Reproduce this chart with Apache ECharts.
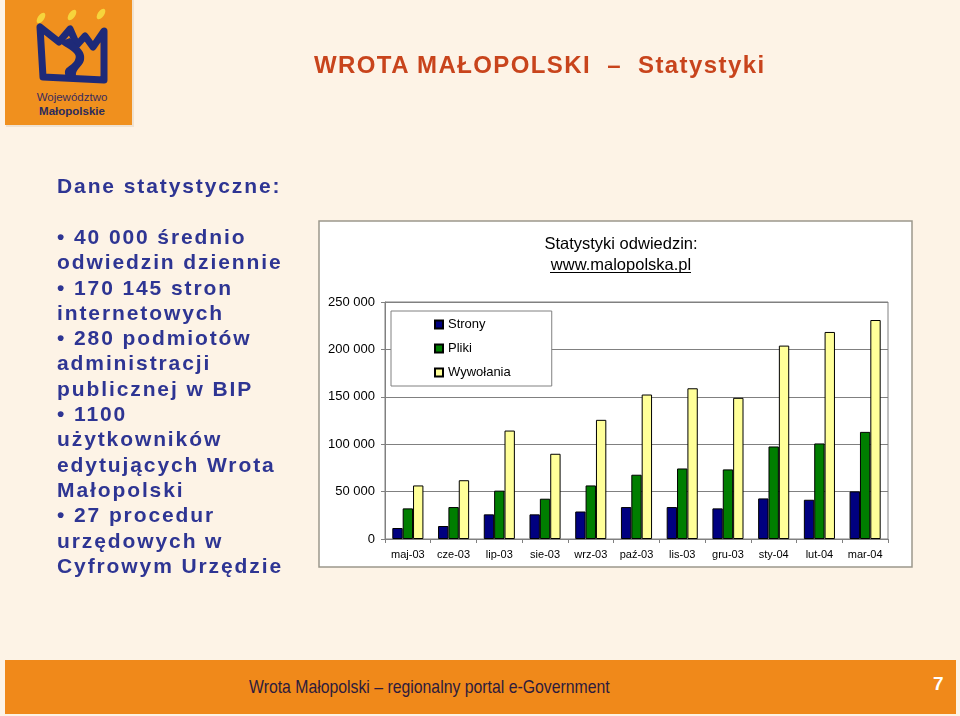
<!DOCTYPE html>
<html>
<head>
<meta charset="utf-8">
<script src="https://cdn.jsdelivr.net/npm/echarts@6/dist/echarts.min.js"></script>
<style>
  html, body { margin:0; padding:0; background:#FDF3E6; }
  #page { position:relative; width:960px; height:716px; overflow:hidden; background:#FDF3E6; }
  #chart { position:absolute; left:0; top:0; width:960px; height:716px; }
  .txt { position:absolute; white-space:pre; font-family:"Liberation Sans", Arial, sans-serif; pointer-events:none; }
  #title { left:314px; top:50px; font-size:24px; line-height:30px; font-weight:bold; color:#C8441C; letter-spacing:1.4px; }
  #left { left:57px; top:224px; font-size:21px; line-height:25.3px; font-weight:bold; color:#2E3593; letter-spacing:1.9px; }
  #head { left:57px; top:173px; font-size:21px; line-height:25.3px; font-weight:bold; color:#2E3593; letter-spacing:1.9px; }
  #footer { position:absolute; left:5px; top:660px; width:951px; height:54px; background:#F0891A; }
  #ftxt { left:249px; top:675px; font-size:18.5px; line-height:24px; color:#2D1B3D; transform:scaleX(0.854); transform-origin:left center; }
  #fnum { left:933px; top:672px; font-size:19px; line-height:24px; color:#fff; font-weight:bold; }
  #logo { position:absolute; left:4px; top:0px; }
</style>
</head>
<body>
<div id="page">
  <svg id="logo" width="132" height="130" viewBox="0 0 132 130">
    <rect x="2" y="0" width="128" height="127" fill="#EFE2D2"/>
    <rect x="1" y="0" width="127" height="125" fill="#F0901E"/>
    <g fill="#F6D43C">
      <ellipse cx="37" cy="18" rx="3.2" ry="6" transform="rotate(35 37 18)"/>
      <ellipse cx="68" cy="15" rx="3.2" ry="6" transform="rotate(35 68 15)"/>
      <ellipse cx="97" cy="14" rx="3.2" ry="6" transform="rotate(35 97 14)"/>
    </g>
    <path d="M36,27 L39,77 L100,80 L100,31 L89,47 L81,36 L73,45 L66,29 L55,42 Z" fill="none" stroke="#1E2A78" stroke-width="7" stroke-linejoin="round"/>
    <path d="M55,42 C64,50 75,52 71,60 C67,68 58,66 62,77 L73,78 C69,70 78,68 80,60 C82,50 72,46 66,38 Z" fill="#1E2A78"/>
    <text x="68" y="101" text-anchor="middle" font-family="Liberation Sans, Arial" font-size="11.5" fill="#3B2C5C">Województwo</text>
    <text x="68" y="115" text-anchor="middle" font-family="Liberation Sans, Arial" font-size="11.5" font-weight="bold" fill="#2B2A5C">Małopolskie</text>
  </svg>
  <div id="chart"></div>
  <div id="title" class="txt">WROTA MAŁOPOLSKI  –  Statystyki</div>
  <div id="head" class="txt">Dane statystyczne:</div>
  <div id="left" class="txt">• 40 000 średnio
odwiedzin dziennie
• 170 145 stron
internetowych
• 280 podmiotów
administracji
publicznej w BIP
• 1100
użytkowników
edytujących Wrota
Małopolski
• 27 procedur
urzędowych w
Cyfrowym Urzędzie</div>
  <div id="footer"></div>
  <div id="ftxt" class="txt">Wrota Małopolski – regionalny portal e-Government</div>
  <div id="fnum" class="txt">7</div>
</div>
<script>
const categories = ['maj-03','cze-03','lip-03','sie-03','wrz-03','paź-03','lis-03','gru-03','sty-04','lut-04','mar-04'];
const strony = [11600, 13700, 26000, 26000, 29000, 33700, 33700, 32300, 42800, 41400, 50200];
const pliki  = [32300, 33700, 51000, 42500, 56500, 67800, 74400, 73400, 97600, 100800, 113000];
const wywolania = [56500, 62000, 114400, 89900, 125700, 152400, 159000, 148900, 204000, 218400, 231000];
const seriesNames = ['Strony', 'Pliki', 'Wywołania'];
const yMin = 0, yMax = 250000, yInterval = 50000;
const chartTitle = 'Statystyki odwiedzin:';
const chartSubtitle = 'www.malopolska.pl';

const chart = echarts.init(document.getElementById('chart'), null, { renderer: 'canvas' });
const font = '"Liberation Sans", Arial, sans-serif';
const fmt = v => String(v).replace(/\B(?=(\d{3})+(?!\d))/g, ' ');
const barStyle = c => ({ color: c, borderColor: '#000', borderWidth: 1 });

chart.setOption({
  backgroundColor: 'transparent',
  animation: false,
  textStyle: { fontFamily: font },
  graphic: [
    { type: 'rect', z: -10, shape: { x: 319, y: 221, width: 593, height: 346 },
      style: { fill: '#fff', stroke: '#9C988C', lineWidth: 1.5 } },
    { type: 'line', z: 10, shape: { x1: 550, y1: 272.5, x2: 691, y2: 272.5 },
      style: { stroke: '#000', lineWidth: 1 } }
  ],
  title: {
    text: chartTitle + '\n' + chartSubtitle,
    left: 616, top: 229, textAlign: 'center',
    textStyle: { fontSize: 16.5, fontWeight: 'normal', color: '#000', lineHeight: 21, fontFamily: font }
  },
  legend: {
    data: seriesNames,
    orient: 'vertical',
    left: 391, top: 311,
    padding: [7, 41, 7, 43],
    itemWidth: 8, itemHeight: 8, itemGap: 11,
    icon: 'rect',
    backgroundColor: '#fff',
    borderColor: '#808080', borderWidth: 1,
    textStyle: { fontSize: 13, color: '#000', fontFamily: font }
  },
  grid: {
    left: 385, right: 72, top: 302, bottom: 177,
    show: true, borderColor: '#808080', borderWidth: 1, backgroundColor: '#fff'
  },
  xAxis: {
    type: 'category',
    data: categories,
    axisLine: { lineStyle: { color: '#808080' } },
    axisTick: { show: true, length: 4, lineStyle: { color: '#808080' } },
    axisLabel: { fontSize: 11, color: '#000', margin: 10, interval: 0 }
  },
  yAxis: {
    type: 'value',
    min: yMin, max: yMax, interval: yInterval,
    axisLine: { show: true, lineStyle: { color: '#808080' } },
    axisTick: { show: true, length: 4, lineStyle: { color: '#808080' } },
    splitLine: { lineStyle: { color: '#808080', width: 1 } },
    axisLabel: { fontSize: 13, color: '#000', margin: 10, formatter: fmt }
  },
  series: [
    { name: seriesNames[0], type: 'bar', data: strony, itemStyle: barStyle('#000080'), barGap: '0%', barCategoryGap: '32%' },
    { name: seriesNames[1], type: 'bar', data: pliki, itemStyle: barStyle('#007E00'), barGap: '0%', barCategoryGap: '32%' },
    { name: seriesNames[2], type: 'bar', data: wywolania, itemStyle: barStyle('#FFFF99'), barGap: '0%', barCategoryGap: '32%' }
  ]
});
</script>
</body>
</html>
